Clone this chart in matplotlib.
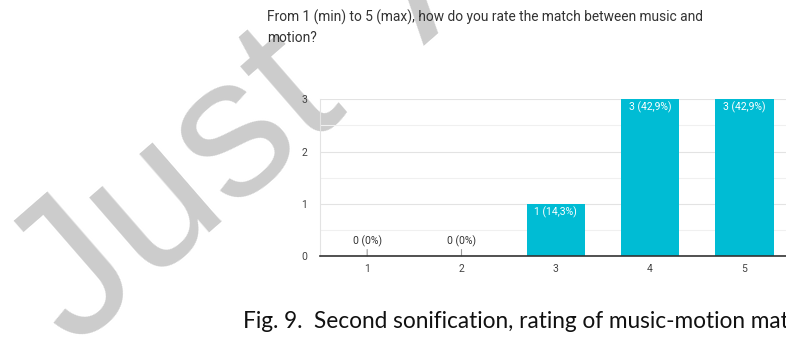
import matplotlib
matplotlib.use("Agg")
import matplotlib.pyplot as plt

# survey answers
ratings = ["1", "2", "3", "4", "5"]
counts = [0, 0, 1, 3, 3]
pct_labels = ["0 (0%)", "0 (0%)", "1 (14,3%)", "3 (42,9%)", "3 (42,9%)"]
y_ticks = [0, 1, 2, 3]

question = "From 1 (min) to 5 (max), how do you rate the match between music and\nmotion?"
caption = "Fig. 9.  Second sonification, rating of music-motion match."

bar_color = "#00bcd4"

fig = plt.figure(figsize=(7.86, 3.46), dpi=100)
W, H = 786, 346

# watermark behind everything
fig.text(74 / W, 1 - 350 / H, "Just\u2002Accepted", fontsize=143, color="#cccccc",
         rotation=41, rotation_mode="anchor", ha="left", va="baseline",
         family="Liberation Sans", zorder=-5)

ax = fig.add_axes([320 / W, 1 - 256 / H, 466 / W, (256 - 99.3) / H])
ax.set_facecolor("none")

x = list(range(len(ratings)))
ax.bar(x, counts, width=0.62, color=bar_color, zorder=3)

ax.set_xlim(-0.5, 4.44)
ax.set_ylim(0, 3)
ax.set_yticks(y_ticks)
ax.set_yticks([0.5, 1.5, 2.5], minor=True)
ax.set_xticks(x)
ax.set_xticklabels(ratings)
ax.grid(axis="y", which="major", color="#e3e3e3", lw=0.8, zorder=0)
ax.grid(axis="y", which="minor", color="#f0f0f0", lw=0.8, zorder=0)
ax.tick_params(axis="both", which="both", length=0, labelsize=7.5, labelcolor="#444444")
ax.tick_params(axis="y", pad=9)
ax.tick_params(axis="x", pad=6)
for lbl in ax.get_xticklabels() + ax.get_yticklabels():
    lbl.set_family("Roboto")

for s in ["top", "right"]:
    ax.spines[s].set_visible(False)
ax.spines["left"].set_color("#e3e3e3")
ax.spines["left"].set_linewidth(0.8)
ax.spines["bottom"].set_color("#333333")
ax.spines["bottom"].set_linewidth(1.2)
ax.spines["bottom"].set_zorder(4)

for xi, c, lab in zip(x, counts, pct_labels):
    if c > 0:
        ax.annotate(lab, xy=(xi, c), xytext=(0, -8), textcoords="offset pixels",
                    ha="center", va="center", color="white", fontsize=7.5,
                    family="Roboto", zorder=5)
    else:
        ax.annotate(lab, xy=(xi, 0), xytext=(0, 15), textcoords="offset pixels",
                    ha="center", va="center", color="#333333", fontsize=7.5,
                    family="Roboto",
                    arrowprops=dict(arrowstyle="-", color="#999999", lw=0.8,
                                    shrinkA=0, shrinkB=0))

fig.text(267 / W, 1 - 27.5 / H, question, fontsize=9.9, color="#333333",
         family="Roboto", ha="left", va="center", linespacing=1.58)

fig.text(243 / W, 1 - 322 / H, caption, fontsize=16.3, color="#111111",
         family="Lato", ha="left", va="center")

fig.savefig("out.png", dpi=100)
